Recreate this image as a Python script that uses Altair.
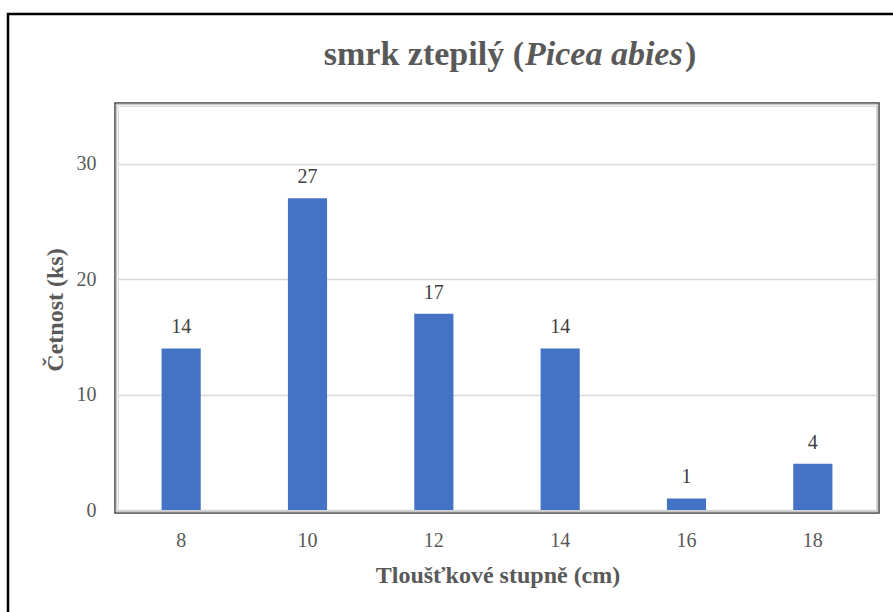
import altair as alt
import pandas as pd

# Diameter classes (cm) and tree counts
classes = ["8", "10", "12", "14", "16", "18"]
counts = [14, 27, 17, 14, 1, 4]

title_main = "smrk ztepilý ("
title_italic = "Picea abies"
title_close = ")"
x_title = "Tloušťkové stupně (cm)"
y_title = "Četnost (ks)"
y_ticks = [0, 10, 20, 30]

W, H = 758, 404
SERIF = "Liberation Serif"
GREY = "#595959"

df = pd.DataFrame({"stupen": classes, "cetnost": counts})
one = pd.DataFrame({"k": [0]})

x_enc = alt.X(
    "stupen:N",
    sort=classes,
    scale=alt.Scale(paddingInner=0.69, paddingOuter=0.345),
    axis=alt.Axis(
        title=None, labelAngle=0, ticks=False, domain=False,
        labelFont=SERIF, labelFontSize=20, labelColor=GREY, labelPadding=20,
    ),
)
y_enc = alt.Y(
    "cetnost:Q",
    scale=alt.Scale(domain=[0, 35], nice=False),
    axis=alt.Axis(
        title=None, values=y_ticks, ticks=False, domain=False,
        grid=True, gridColor="#d9d9d9", gridWidth=1.5,
        labelFont=SERIF, labelFontSize=20, labelColor=GREY, labelPadding=22,
    ),
)

bars = alt.Chart(df).mark_bar(color="#4472C4").encode(x=x_enc, y=y_enc)

labels = alt.Chart(df).mark_text(
    font=SERIF, fontSize=20, color="#404040", baseline="alphabetic", dy=-15
).encode(x=alt.X("stupen:N", sort=classes), y="cetnost:Q", text="cetnost:Q")


def frame(off, color, width):
    return alt.Chart(one).mark_rect(
        fillOpacity=0, stroke=color, strokeWidth=width
    ).encode(
        x=alt.value(-off), x2=alt.value(W + off),
        y=alt.value(-off), y2=alt.value(H + off),
    )


# Outer chart border; its right and bottom edges run past the canvas
outer_box = alt.Chart(one).mark_rect(
    fillOpacity=0, stroke="#000000", strokeWidth=2.5
).encode(
    x=alt.value(-110), x2=alt.value(W + 60),
    y=alt.value(-92), y2=alt.value(H + 140),
)


def text(t, x, y, align="center", size=24, style="normal", angle=0):
    return alt.Chart(one).mark_text(
        text=t, font=SERIF, fontSize=size, fontWeight="bold", fontStyle=style,
        color=GREY, align=align, baseline="alphabetic", angle=angle,
    ).encode(x=alt.value(x), y=alt.value(y))


title_parts = (
    text(title_main, 406, -41, align="right", size=34)
    + text(title_italic, 407, -41, align="left", size=34, style="italic")
    + text(title_close, 567, -41, align="left", size=34)
)

chart = alt.layer(
    outer_box,
    frame(3, "#404040", 1.5),
    frame(1.5, "#c8c8c8", 1.5),
    bars,
    labels,
    title_parts,
    text(x_title, 380, 477),
    text(y_title, -55, 204, angle=270),
).properties(
    width=W,
    height=H,
    autosize=alt.AutoSizeParams(type="none"),
    padding={"left": 118, "top": 106, "right": 17, "bottom": 102},
).configure_view(
    stroke="#404040", strokeWidth=1.5
).configure(background="white")

chart.save("out.html", embed_options={"renderer": "svg", "actions": False})
